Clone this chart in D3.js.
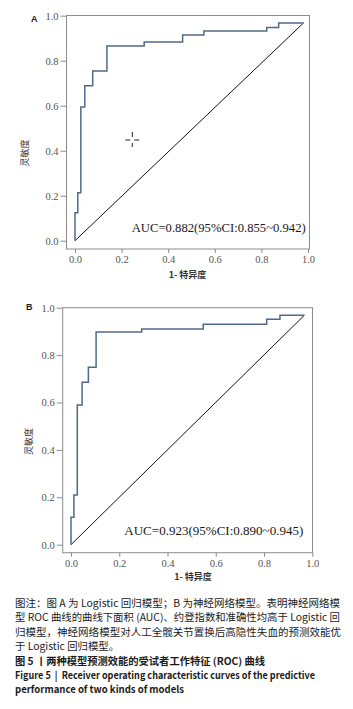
<!DOCTYPE html>
<html>
<head>
<meta charset="utf-8">
<script src="https://cdn.jsdelivr.net/npm/d3@7"></script>
<style>
  body { margin: 0; background: #fff; }
  svg { display: block; }
</style>
</head>
<body>
<div id="chart"></div>
<script>
// tick values shared by both axes
var ticks = [0, 0.2, 0.4, 0.6, 0.8, 1.0];

// panel A: logistic regression ROC (step corners)
var fprA = [0, 0.012, 0.025, 0.042, 0.076, 0.137, 0.297, 0.462, 0.553, 0.823, 0.874, 0.981];
var tprA = [0, 0.124, 0.213, 0.594, 0.689, 0.754, 0.865, 0.883, 0.914, 0.932, 0.948, 0.968];
var diagA_x = [0, 0.981];
var diagA_y = [0, 0.968];

// panel B: neural network ROC
var fprB = [0, 0.012, 0.026, 0.046, 0.072, 0.104, 0.293, 0.548, 0.811, 0.866, 0.967];
var tprB = [0, 0.116, 0.210, 0.589, 0.685, 0.749, 0.897, 0.910, 0.930, 0.951, 0.968];
var diagB_x = [0, 0.967];
var diagB_y = [0, 0.968];

var panelLetters = ["A", "B"];
var aucLabels = ["AUC=0.882(95%CI:0.855~0.942)", "AUC=0.923(95%CI:0.890~0.945)"];
var xTitle = "1- 特异度";
var yTitle = "灵敏度";

var captionLines = [
  "图注：图 A 为 Logistic 回归模型；B 为神经网络模型。表明神经网络模",
  "型 ROC 曲线的曲线下面积 (AUC)、约登指数和准确性均高于 Logistic 回",
  "归模型，神经网络模型对人工全髋关节置换后高隐性失血的预测效能优",
  "于 Logistic 回归模型。",
  "图 5 丨两种模型预测效能的受试者工作特征 (ROC) 曲线",
  "Figure 5  |  Receiver operating characteristic curves of the predictive",
  "performance of two kinds of models"
];

var width = 353, height = 709;
var svg = d3.select("#chart").append("svg")
  .attr("width", width)
  .attr("height", height);

// layout of each panel in pixels
var panels = [
  { letter: panelLetters[0], fpr: fprA, tpr: tprA, dx: diagA_x, dy: diagA_y, auc: aucLabels[0],
    left: 66.5, top: 15.5, right: 309.5, bottom: 249,
    x0: 75, x1: 308, y0: 240.7, y1: 15.7,
    letterPos: [31, 22], yTitlePos: [25, 153], xTitlePos: [187.5, 278],
    aucPos: [131.7, 231.5], aucLen: 174, cross: [132.3, 140] },
  { letter: panelLetters[1], fpr: fprB, tpr: tprB, dx: diagB_x, dy: diagB_y, auc: aucLabels[1],
    left: 62.7, top: 307.7, right: 312.5, bottom: 552.7,
    x0: 71, x1: 312.3, y0: 544.7, y1: 307.7,
    letterPos: [26, 310], yTitlePos: [29, 441.5], xTitlePos: [193, 580],
    aucPos: [124.3, 535], aucLen: 179, cross: null }
];

panels.forEach(function(p) {
  var x = d3.scaleLinear().domain([0, 1]).range([p.x0, p.x1]);
  var y = d3.scaleLinear().domain([0, 1]).range([p.y0, p.y1]);

  // frame
  svg.append("rect")
    .attr("x", p.left).attr("y", p.top)
    .attr("width", p.right - p.left).attr("height", p.bottom - p.top)
    .attr("fill", "none").attr("stroke", "#8c8c8c").attr("stroke-width", 1);

  var yAxis = d3.axisLeft(y).tickValues(ticks).tickFormat(d3.format(".1f"))
    .tickSize(6).tickPadding(2);
  var xAxis = d3.axisBottom(x).tickValues(ticks).tickFormat(d3.format(".1f"))
    .tickSize(4).tickPadding(3);

  var gy = svg.append("g").attr("transform", "translate(" + p.left + ",0)").call(yAxis);
  var gx = svg.append("g").attr("transform", "translate(0," + p.bottom + ")").call(xAxis);
  [gx, gy].forEach(function(g) {
    g.select(".domain").remove();
    g.selectAll(".tick line").attr("stroke", "#8c8c8c");
    g.selectAll(".tick text")
      .attr("fill", "#555")
      .style("font-family", "'Liberation Serif', 'DejaVu Serif', serif")
      .style("font-size", "10.5px");
  });

  // reference diagonal
  var diag = d3.line().x(function(d) { return x(d[0]); }).y(function(d) { return y(d[1]); });
  svg.append("path")
    .datum(d3.zip(p.dx, p.dy))
    .attr("d", diag)
    .attr("fill", "none").attr("stroke", "#111").attr("stroke-width", 1);

  // ROC step curve
  var roc = d3.line()
    .x(function(d) { return x(d[0]); })
    .y(function(d) { return y(d[1]); })
    .curve(d3.curveStepBefore);
  svg.append("path")
    .datum(d3.zip(p.fpr, p.tpr))
    .attr("d", roc)
    .attr("fill", "none").attr("stroke", "#4f6a88").attr("stroke-width", 1.5);

  // AUC annotation
  svg.append("text")
    .attr("x", p.aucPos[0]).attr("y", p.aucPos[1])
    .attr("textLength", p.aucLen).attr("lengthAdjust", "spacingAndGlyphs")
    .attr("fill", "#1a1a1a")
    .style("font-family", "'Liberation Serif', 'DejaVu Serif', serif")
    .style("font-size", "12.5px")
    .text(p.auc);

  // panel letter
  svg.append("text")
    .attr("x", p.letterPos[0]).attr("y", p.letterPos[1])
    .attr("fill", "#222")
    .style("font-family", "'Liberation Sans', Arial, sans-serif")
    .style("font-size", "9px").style("font-weight", "bold")
    .text(p.letter);

  // axis titles
  svg.append("text")
    .attr("transform", "translate(" + p.yTitlePos[0] + "," + p.yTitlePos[1] + ") rotate(-90)")
    .attr("text-anchor", "middle").attr("dy", "0.35em")
    .attr("fill", "#333")
    .style("font-family", "'Noto Sans CJK SC', sans-serif")
    .style("font-size", "9px")
    .text(yTitle);

  svg.append("text")
    .attr("x", p.xTitlePos[0]).attr("y", p.xTitlePos[1])
    .attr("text-anchor", "middle")
    .attr("fill", "#333")
    .style("font-family", "'Noto Sans CJK SC', sans-serif")
    .style("font-size", "9px").style("font-weight", "bold")
    .text(xTitle);

  // mouse crosshair left in the screenshot
  if (p.cross) {
    var c = p.cross;
    var segs = [[-7, 0, -2, 0], [2, 0, 7, 0], [0, -8, 0, -3], [0, 3, 0, 7]];
    svg.append("g").selectAll("line").data(segs).enter().append("line")
      .attr("x1", function(s) { return c[0] + s[0]; })
      .attr("y1", function(s) { return c[1] + s[1]; })
      .attr("x2", function(s) { return c[0] + s[2]; })
      .attr("y2", function(s) { return c[1] + s[3]; })
      .attr("stroke", "#222").attr("stroke-width", 1);
  }
});

// caption
var capY = [607, 621, 635.5, 650, 664.5, 679, 693];
var capLen = [325, 325, 326, 104, 250, 300, 169];
svg.append("g").selectAll("text").data(captionLines).enter().append("text")
  .attr("x", 15)
  .attr("y", function(d, i) { return capY[i]; })
  .attr("textLength", function(d, i) { return capLen[i]; })
  .attr("lengthAdjust", "spacingAndGlyphs")
  .attr("fill", "#1a1a1a")
  .style("white-space", "pre")
  .style("font-family", "'Noto Sans CJK SC', 'Noto Sans', sans-serif")
  .style("font-size", "10px")
  .style("font-weight", function(d, i) { return i >= 4 ? "bold" : "normal"; })
  .text(function(d) { return d; });
</script>
</body>
</html>
